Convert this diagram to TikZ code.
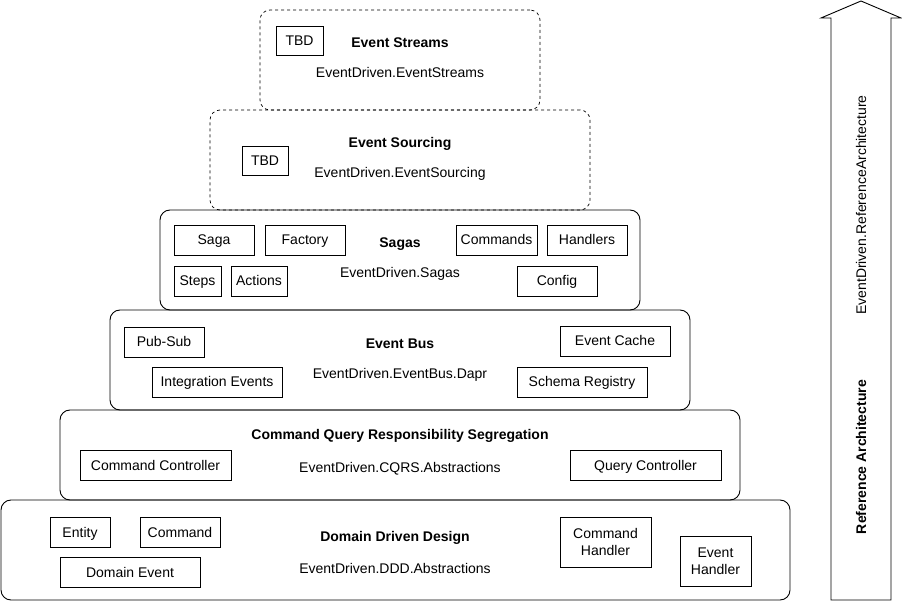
\documentclass[tikz,border=0pt]{standalone}
\usepackage{fontspec}
\setmainfont{Liberation Sans}
\begin{document}
\begin{tikzpicture}[x=1pt,y=-1pt,
  font=\fontsize{14}{17}\selectfont,
  layer/.style={draw, line width=0.9pt, rounded corners=10pt, inner sep=0pt},
  dashlayer/.style={layer, dash pattern=on 3pt off 3pt, line width=0.7pt},
  tallbox/.style={draw, line width=0.9pt, inner sep=0pt, align=center},
  box/.style={tallbox, minimum height=30pt, text height=11.5pt, text depth=1.5pt},
  title/.style={font=\fontsize{14}{17}\selectfont\bfseries, inner sep=0pt, text height=11.5pt, text depth=1.5pt},
  sub/.style={inner sep=0pt, text height=11.5pt, text depth=1.5pt}]
\useasboundingbox (0,0) rectangle (902,601);
% layers
\node[dashlayer, minimum width=280pt, minimum height=100pt] (es) at (400,60) {};
\node[dashlayer, minimum width=380pt, minimum height=100pt] (esrc) at (400,160) {};
\node[layer, minimum width=480pt, minimum height=100pt] (sagas) at (400,260) {};
\node[layer, minimum width=580pt, minimum height=100pt] (bus) at (400,360) {};
\node[layer, minimum width=680pt, minimum height=90pt] (cqrs) at (400,455) {};
\node[layer, minimum width=789pt, minimum height=100pt] (ddd) at (395.5,550) {};
% Event Streams
\node[box, minimum width=47pt, minimum height=29pt] (tbd1) at (299.5,40.5) {TBD};
\node[title] (est) at (400,43) {Event Streams};
\node[sub] (ess) at (400,73) {EventDriven.EventStreams};
% Event Sourcing
\node[box, minimum width=46pt, minimum height=29pt] (tbd2) at (265,160.5) {TBD};
\node[title] (esrct) at (400,143) {Event Sourcing};
\node[sub] (esrcs) at (400,173) {EventDriven.EventSourcing};
% Sagas
\node[box, minimum width=80pt] (saga) at (214,240) {Saga};
\node[box, minimum width=80pt] (factory) at (305,240) {Factory};
\node[box, minimum width=81pt] (commands) at (496.5,240) {Commands};
\node[box, minimum width=80pt] (handlers) at (587,240) {Handlers};
\node[box, minimum width=47pt] (steps) at (197.5,281) {Steps};
\node[box, minimum width=56pt] (actions) at (259,281) {Actions};
\node[box, minimum width=80pt] (config) at (557,281) {Config};
\node[title] (sagast) at (400,243) {Sagas};
\node[sub] (sagass) at (400,273) {EventDriven.Sagas};
% Event Bus
\node[box, minimum width=80pt] (pubsub) at (164,342) {Pub-Sub};
\node[box, minimum width=110pt] (cache) at (615,341) {Event Cache};
\node[box, minimum width=130pt] (integ) at (217,382) {Integration Events};
\node[box, minimum width=130pt] (schema) at (582,382) {Schema Registry};
\node[title] (bust) at (400,344) {Event Bus};
\node[sub] (buss) at (400,374) {EventDriven.EventBus.Dapr};
% CQRS
\node[box, minimum width=151pt] (cmdctl) at (155.5,465) {Command Controller};
\node[box, minimum width=151pt] (qryctl) at (645.5,465) {Query Controller};
\node[title] (cqrst) at (400,434) {Command Query Responsibility Segregation};
\node[sub] (cqrss) at (400,467) {EventDriven.CQRS.Abstractions};
% DDD
\node[box, minimum width=60pt] (entity) at (80,532) {Entity};
\node[box, minimum width=80pt] (command) at (180,532) {Command};
\node[box, minimum width=140pt] (devent) at (130,572) {Domain Event};
\node[tallbox, minimum width=91pt, minimum height=50pt] (cmdh) at (605.5,542) {Command\\Handler};
\node[tallbox, minimum width=71pt, minimum height=50pt] (evh) at (715.5,561) {Event\\Handler};
\node[title] (dddt) at (395,536) {Domain Driven Design};
\node[sub] (ddds) at (395,568) {EventDriven.DDD.Abstractions};
% Arrow
\draw[line width=0.9pt, line join=miter] (831,600) -- (831,18) -- (821,18) -- (861,1) -- (901,18) -- (891,18) -- (891,600) -- cycle;
\node[sub, rotate=90] (ra1) at (861,205) {EventDriven.ReferenceArchitecture};
\node[title, rotate=90] (ra2) at (861,457) {Reference Architecture};
\end{tikzpicture}
\end{document}
